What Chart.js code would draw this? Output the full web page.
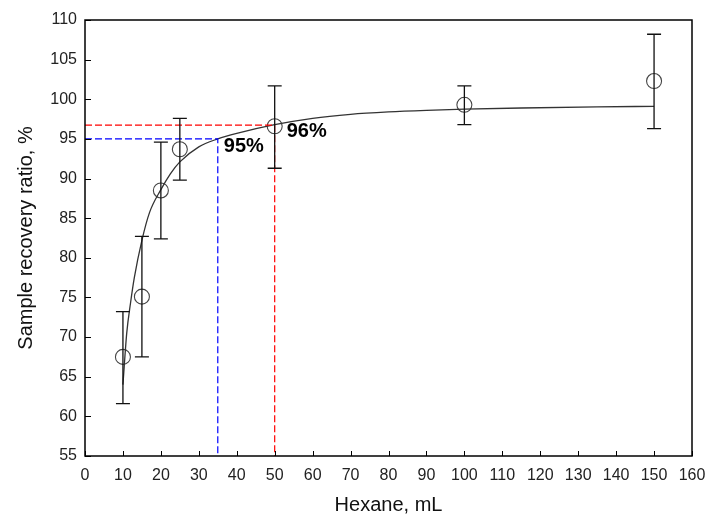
<!DOCTYPE html>
<html>
<head>
<meta charset="utf-8">
<title>Sample recovery ratio vs hexane</title>
<script src="https://cdn.jsdelivr.net/npm/chart.js@4.4.1/dist/chart.umd.min.js"></script>
<style>
  html, body { margin: 0; padding: 0; background: #fff; }
</style>
</head>
<body>
<canvas id="recovery" width="708" height="521"></canvas>
<script>
// measured points
const hexane   = [10, 15, 20, 25, 50, 100, 150];
const recovery = [67.5, 75.1, 88.5, 93.7, 96.6, 99.3, 102.3];
const errLow   = [61.6, 67.5, 82.4, 89.8, 91.3, 96.8, 96.3];
const errHigh  = [73.2, 82.7, 94.6, 97.6, 101.7, 101.7, 108.2];

// fitted curve
const fitX = [10, 11, 12, 13, 15, 17, 20, 22.5, 25, 30, 35, 40, 50, 60, 70, 80, 90, 100, 115, 135, 150];
const fitY = [64.0, 70.5, 74.3, 77.5, 82.2, 85.7, 88.6, 90.6, 92.1, 94.0, 95.0, 95.7, 96.8, 97.6, 98.1, 98.4, 98.6, 98.75, 98.9, 99.05, 99.1];

// 95 % and 96 % markers
const markX    = [35, 50];
const markY    = [95, 96.75];
const markText = ['95%', '96%'];

const xTicks = [0, 160, 10];
const yTicks = [55, 110, 5];

const toPts = (xs, ys) => xs.map((x, i) => ({x: x, y: ys[i]}));
const guide = (x, y) => [{x: 0, y: y}, {x: x, y: y}, {x: x, y: yTicks[0]}];

const drawExtras = {
  id: 'drawExtras',
  afterDatasetsDraw(chart) {
    const ctx = chart.ctx;
    const xs = chart.scales.x, ys = chart.scales.y;
    const area = chart.chartArea;
    ctx.save();

    // error bars
    ctx.strokeStyle = '#111';
    ctx.lineWidth = 1.3;
    hexane.forEach((h, i) => {
      const px = xs.getPixelForValue(h);
      const top = ys.getPixelForValue(errHigh[i]);
      const bot = ys.getPixelForValue(errLow[i]);
      ctx.beginPath();
      ctx.moveTo(px, top); ctx.lineTo(px, bot);
      ctx.moveTo(px - 7, top); ctx.lineTo(px + 7, top);
      ctx.moveTo(px - 7, bot); ctx.lineTo(px + 7, bot);
      ctx.stroke();
    });

    // frame and inward ticks
    ctx.strokeStyle = '#000';
    ctx.lineWidth = 1.5;
    ctx.strokeRect(area.left, area.top, area.right - area.left, area.bottom - area.top);
    ctx.lineWidth = 1;
    ctx.beginPath();
    xs.ticks.forEach(t => {
      const px = Math.round(xs.getPixelForValue(t.value)) + 0.5;
      ctx.moveTo(px, area.bottom); ctx.lineTo(px, area.bottom - 5);
    });
    ys.ticks.forEach(t => {
      const py = Math.round(ys.getPixelForValue(t.value)) + 0.5;
      ctx.moveTo(area.left, py); ctx.lineTo(area.left + 6, py);
    });
    ctx.stroke();

    // percentage labels
    const offs = [[6, 8], [12, 6]];
    ctx.fillStyle = '#000';
    ctx.font = 'bold 20px "Liberation Sans", Arial, sans-serif';
    ctx.textAlign = 'left';
    ctx.textBaseline = 'middle';
    markText.forEach((txt, i) => {
      ctx.fillText(txt, xs.getPixelForValue(markX[i]) + offs[i][0], ys.getPixelForValue(markY[i]) + offs[i][1]);
    });
    ctx.restore();
  }
};

new Chart('recovery', {
  type: 'scatter',
  data: {
    datasets: [
      {
        data: guide(markX[0], markY[0]),
        showLine: true, borderColor: '#0000ff', borderWidth: 1.2,
        borderDash: [7, 3], pointRadius: 0
      },
      {
        data: guide(markX[1], markY[1]),
        showLine: true, borderColor: '#ff0000', borderWidth: 1.2,
        borderDash: [7, 3], pointRadius: 0
      },
      {
        data: toPts(fitX, fitY),
        showLine: true, borderColor: '#333', borderWidth: 1.3,
        cubicInterpolationMode: 'monotone', pointRadius: 0
      },
      {
        data: toPts(hexane, recovery),
        pointRadius: 7.5, pointBorderColor: '#444', pointBorderWidth: 1.1,
        pointBackgroundColor: 'rgba(0,0,0,0)'
      }
    ]
  },
  options: {
    responsive: false,
    animation: false,
    layout: { padding: { top: 20, right: 16, left: 0, bottom: 0 } },
    plugins: { legend: { display: false }, tooltip: { enabled: false } },
    scales: {
      x: {
        type: 'linear', min: xTicks[0], max: xTicks[1],
        afterFit: s => { s.height = 65; s.paddingRight = 0; s.paddingLeft = 0; },
        grid: { display: false, drawTicks: false },
        border: { display: false },
        ticks: { stepSize: xTicks[2], padding: 10, color: '#222',
                 font: { family: '"Liberation Sans", Arial, sans-serif', size: 16 } },
        title: { display: true, text: 'Hexane, mL', color: '#111',
                 font: { family: '"Liberation Sans", Arial, sans-serif', size: 20 } }
      },
      y: {
        type: 'linear', min: yTicks[0], max: yTicks[1],
        afterFit: s => { s.width = 85; s.paddingTop = 0; s.paddingBottom = 0; },
        grid: { display: false, drawTicks: false },
        border: { display: false },
        ticks: { stepSize: yTicks[2], padding: 8, color: '#222',
                 font: { family: '"Liberation Sans", Arial, sans-serif', size: 16 } },
        title: { display: true, text: 'Sample recovery ratio, %', color: '#111',
                 font: { family: '"Liberation Sans", Arial, sans-serif', size: 20, lineHeight: 2.2 } }
      }
    }
  },
  plugins: [drawExtras]
});
</script>
</body>
</html>
